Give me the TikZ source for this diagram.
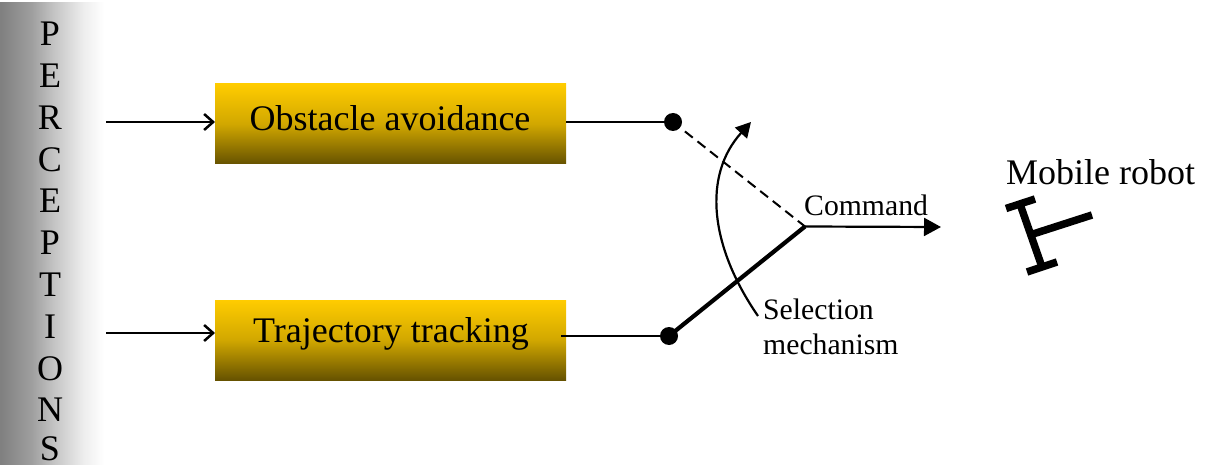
\documentclass[tikz,border=0pt]{standalone}
\usepackage{fontspec}
\setmainfont{Liberation Serif}
\usetikzlibrary{arrows.meta}
\definecolor{boxtop}{HTML}{FFCC00}
\definecolor{boxbot}{HTML}{665200}
\pgfdeclarehorizontalshading{bandshade}{100bp}{
  color(0bp)=(black!50); color(25bp)=(black!50); color(40bp)=(black!38); color(51bp)=(black!23); color(65bp)=(black!7); color(75bp)=(white); color(100bp)=(white)}
\tikzset{
  x=1pt,y=-1pt,
  behav/.style={minimum width=351pt,minimum height=80pt,inner sep=0pt,top color=boxtop,bottom color=boxbot,middle color=boxtop!70!boxbot},
  blabel/.style={font=\fontsize{36}{36}\selectfont},
  pl/.style={font=\fontsize{36}{36}\selectfont,inner sep=0pt},
  dot/.style={circle,fill=black,minimum size=18pt,inner sep=0pt},
  inarrow/.style={line width=2.3pt,-{Straight Barb[length=9pt,width=16pt,line width=2.5pt]}},
  solidarrow/.style={line width=2.2pt,-{Triangle[length=17pt,width=18pt]}},
  lab/.style={font=\fontsize{29.7}{35}\selectfont,inner sep=0pt,align=left},
  robot/.style={line width=7.5pt,black}
}
\begin{document}
\begin{tikzpicture}
\useasboundingbox (0,0) rectangle (1215,465);
\shade[shading=bandshade] (0,3) rectangle (104,465);
\foreach \c/\yy in {P/34,E/76,R/118,C/159.5,E/201,P/243,T/285,I/327,O/368.5,N/410,S/449}
  \node[pl] at (50,\yy) {\c};
\node[behav] (oa) at (390.5,124) {};
\node[blabel] (oat) at (390,118) {Obstacle avoidance};
\node[behav] (tt) at (390.5,340) {};
\node[blabel] (ttt) at (391,334) {Trajectory tracking};
\coordinate (in1) at (106,122);
\coordinate (in2) at (106,333);
\coordinate (e1) at (215,122);
\coordinate (e2) at (215,333);
\draw[inarrow] (in1) -- (e1);
\draw[inarrow] (in2) -- (e2);
\node[dot] (d1) at (673,122) {};
\node[dot] (d2) at (669,336) {};
\coordinate (o1) at (566,122);
\coordinate (o2) at (561,336);
\draw[line width=2.2pt] (o1) -- (d1);
\draw[line width=2.2pt] (o2) -- (d2);
\coordinate (j) at (805,226.5);
\coordinate (cmd) at (941,227);
\draw[line width=2pt,dash pattern=on 10pt off 6pt,dash phase=10pt] (d1) -- (j);
\draw[line width=4.2pt] (d2.center) -- (j);
\draw[solidarrow] (j) -- (cmd);
\coordinate (c1) at (758,316);
\coordinate (c2) at (751,122);
\draw[line width=2.2pt,-{Triangle[length=15pt,width=16pt]}] (c1) .. controls (709,245) and (703,175) .. (c2);
\node[lab,anchor=west] (cl) at (804,205) {Command};
\node[lab,anchor=north west] (sl) at (763,299) {Selection\\mechanism};
\node[font=\fontsize{36}{36}\selectfont,anchor=west,inner sep=0pt] (mr) at (1006,172) {Mobile robot};
\draw[robot] (1006,208.5) -- (1035,199);
\draw[robot] (1027,272) -- (1057,262);
\draw[robot] (1020,204) -- (1042,267);
\draw[robot] (1033,234) -- (1092,215);
\end{tikzpicture}
\end{document}
